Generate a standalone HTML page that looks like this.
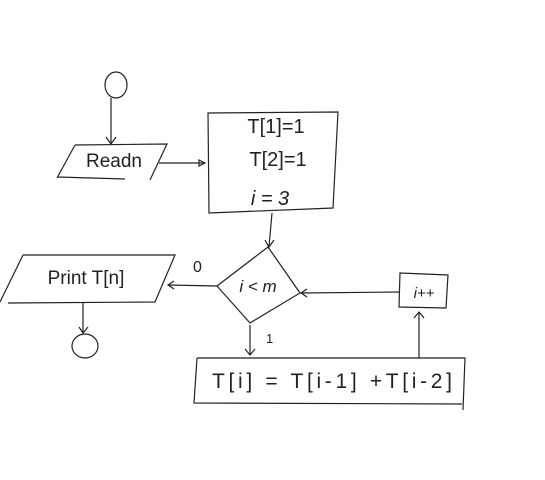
<!DOCTYPE html>
<html><head><style>body{margin:0;background:#fff}svg{display:block}text{font-family:"Liberation Sans",sans-serif;fill:#222}</style></head><body>
<svg width="545" height="480" viewBox="0 0 545 480" fill="none" stroke="#222" stroke-width="1.2">
<ellipse cx="116" cy="85" rx="11" ry="13"/>
<path d="M111 98 L111 144 M106 137 L111 144 L116 137"/>
<path d="M75 145 L167 144 L150 180 M57 178 L75 145 M58 177 L125 179"/>
<text x="114" y="167" font-size="19" stroke="none" text-anchor="middle">Readn</text>
<path d="M159 163 L205 163 M199 160 L205 163 L199 166 Z"/>
<path d="M208 113 L338 112 L333 208 L209 213 Z"/>
<text x="276" y="133" font-size="20" stroke="none" text-anchor="middle">T[1]=1</text>
<text x="278" y="166" font-size="20" stroke="none" text-anchor="middle">T[2]=1</text>
<text x="270" y="205" font-size="20" stroke="none" text-anchor="middle" font-style="italic">i = 3</text>
<path d="M272 213 L269 247 M265 240 L269 247 L274 240"/>
<path d="M268 247 L217 286 L250 323 L300 293 Z"/>
<text x="258" y="292" font-size="17" stroke="none" text-anchor="middle" font-style="italic">i &lt; m</text>
<path d="M217 286 L168 285 M174 281 L168 285 L174 289"/>
<text x="193" y="272" font-size="16" stroke="none">0</text>
<path d="M23 255 L175 255 L155 302 L8 303 M23 255 L0 302"/>
<text x="86" y="284" font-size="19" stroke="none" text-anchor="middle">Print T[n]</text>
<path d="M83 303 L83 333 M79 327 L83 333 L88 327"/>
<ellipse cx="85" cy="346" rx="13" ry="12"/>
<path d="M250 325 L250 355 M245 349 L250 355 L255 349"/>
<text x="266" y="343" font-size="13" stroke="none">1</text>
<path d="M197 358 L465 358 L463 410 M197 358 L194 403 L462 404"/>
<text x="212" y="388" font-size="21" stroke="none" textLength="240">T[i] = T[i-1] +T[i-2]</text>
<path d="M419 358 L419 312 M414 318 L419 312 L424 318"/>
<path d="M400 273 L448 275 L446 308 L399 307 Z"/>
<text x="424" y="298" font-size="15" stroke="none" text-anchor="middle" font-style="italic">i++</text>
<path d="M400 292 L301 293 M307 289 L301 293 L307 297"/>
</svg>
</body></html>
